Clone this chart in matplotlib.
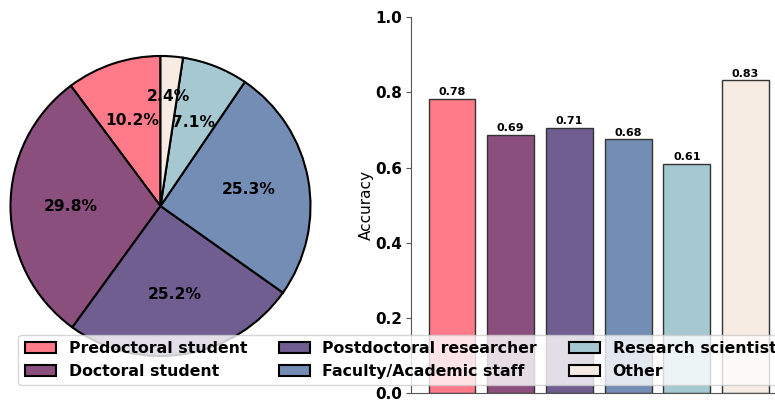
import numpy as np
import matplotlib.pyplot as plt

plt.rcParams['font.family'] = ['DejaVu Sans']

# Data
roles = ['Predoctoral student', 'Doctoral student', 'Postdoctoral researcher',
         'Faculty/Academic staff', 'Research scientist', 'Other']
shares = [10.2, 29.8, 25.2, 25.3, 7.1, 2.4]
accuracy = [0.783, 0.687, 0.706, 0.676, 0.610, 0.832]
colors = ['#ff7b8a', '#8b4f7e', '#6f5e8f', '#738db5', '#a6c9d1', '#f6ece3']

W, H = 775, 400
fig = plt.figure(figsize=(W/100, H/100), dpi=100)

# Pie on the left
r_px = 150
lim = 1.05
side = 2*lim*r_px
cx, cy = 160.5, 400-206
ax0 = fig.add_axes([(cx-side/2)/W, (cy-side/2)/H, side/W, side/H])
wedges, texts, autotexts = ax0.pie(shares, colors=colors, startangle=90, counterclock=True,
                                   autopct='%1.1f%%', pctdistance=0.6,
                                   wedgeprops=dict(edgecolor='black', linewidth=1.5))
for t, s in zip(autotexts, shares):
    t.set_fontsize(11.2)
    t.set_fontweight('bold')
    if s < 5:
        # push tiny slice label outward so it clears its neighbours
        px, py = t.get_position()
        t.set_position((px*0.73/0.6, py*0.73/0.6))
ax0.set_xlim(-lim, lim)
ax0.set_ylim(-lim, lim)
ax0.set_aspect('equal')

# Bars on the right
x = np.arange(len(roles))
unit = 58.7
left_px = 452 - 0.69*unit
right_px = 452 + 5.69*unit
bot_px, top_px = 393, 17.3
ax1 = fig.add_axes([left_px/W, (H-bot_px)/H, (right_px-left_px)/W, (bot_px-top_px)/H])
bars = ax1.bar(x, accuracy, width=0.8, color=colors, edgecolor='#333333', linewidth=1)
for b, v in zip(bars, accuracy):
    ax1.text(b.get_x()+b.get_width()/2, v+0.004, '%.2f' % v, ha='center', va='bottom',
             fontsize=8, fontweight='bold')
ax1.set_ylim(0, 1.0)
ax1.set_xlim(-0.69, 5.69)
ax1.set_xticks([])
ax1.set_yticks([0.0, 0.2, 0.4, 0.6, 0.8, 1.0])
ax1.set_yticklabels(['%.1f' % v for v in [0.0, 0.2, 0.4, 0.6, 0.8, 1.0]],
                    fontsize=11, fontweight='bold')
ax1.set_ylabel('Accuracy', fontsize=11, labelpad=1)
for s in ['top', 'right']:
    ax1.spines[s].set_visible(False)
for s in ['left', 'bottom']:
    ax1.spines[s].set_color('#555555')
ax1.tick_params(axis='y', color='#555555')

fig.legend(wedges, roles, loc='center', bbox_to_anchor=(400.5/W, 40/H), ncol=3,
           prop=dict(size=11.3, weight='bold'))

fig.savefig('out.png', dpi=100)
